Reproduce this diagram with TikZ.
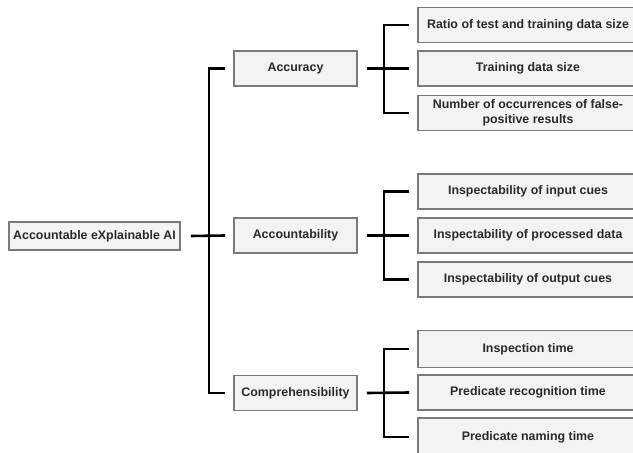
\documentclass[tikz,border=0pt]{standalone}
\usepackage{fontspec}
\setmainfont{Liberation Sans}
\begin{document}
\begin{tikzpicture}[x=1pt,y=-1pt,
  box/.style={draw=boxline, fill=boxfill, line width=1.6pt, rectangle,
    inner sep=0pt, align=center, text=labeltext,
    font=\fontsize{12.4}{15.5}\selectfont\bfseries},
  rootbox/.style={box, minimum width=171pt, minimum height=28pt},
  midbox/.style={box, minimum width=123pt, minimum height=35pt},
  leafbox/.style={box, minimum width=220pt, minimum height=35pt},
  conn/.style={draw=black, line width=2.6pt}]
\definecolor{boxfill}{HTML}{F3F3F3}
\definecolor{boxline}{HTML}{7A7A7A}
\definecolor{labeltext}{HTML}{2A2A2A}
\clip (0,0) rectangle (633,453);
\fill[white] (0,0) rectangle (633,453);

% root
\node[rootbox] (root) at (94.5,236) {Accountable eXplainable AI};

% second level
\node[midbox] (acc)  at (295.5,68.5) {Accuracy};
\node[midbox] (acct) at (295.5,235.5) {Accountability};
\node[midbox] (comp) at (295.5,393) {Comprehensibility};

% leaves of Accuracy
\node[leafbox] (a1) at (528,25) {Ratio of test and training data size};
\node[leafbox] (a2) at (528,68.5) {Training data size};
\node[leafbox] (a3) at (528,113) {Number of occurrences of false-\\positive results};

% leaves of Accountability
\node[leafbox] (b1) at (528,191.5) {Inspectability of input cues};
\node[leafbox] (b2) at (528,235.5) {Inspectability of processed data};
\node[leafbox] (b3) at (528,279.5) {Inspectability of output cues};

% leaves of Comprehensibility
\node[leafbox, minimum height=37pt] (c1) at (528,349) {Inspection time};
\node[leafbox] (c2) at (528,392.5) {Predicate recognition time};
\node[leafbox, minimum height=38pt] (c3) at (528,437) {Predicate naming time};

% bracket from the root
\coordinate (j0) at (209,236);
\draw[conn] ([xshift=10pt]root.east) -- ([xshift=-8pt]acct.west);
\draw[conn] ([xshift=-8pt]acc.west) -| (j0) |- ([xshift=-8pt]comp.west);

% brackets to the leaves
\foreach \m/\t/\mid/\b in {acc/a1/a2/a3, acct/b1/b2/b3, comp/c1/c2/c3}{
  \coordinate (jm) at (384,0);
  \draw[conn] ([xshift=9pt]\m.east) -- ([xshift=-8pt]\mid.west);
  \draw[conn] ([xshift=-8pt]\t.west) -| (jm |- \mid.west) |- ([xshift=-8pt]\b.west);
}
\end{tikzpicture}
\end{document}
